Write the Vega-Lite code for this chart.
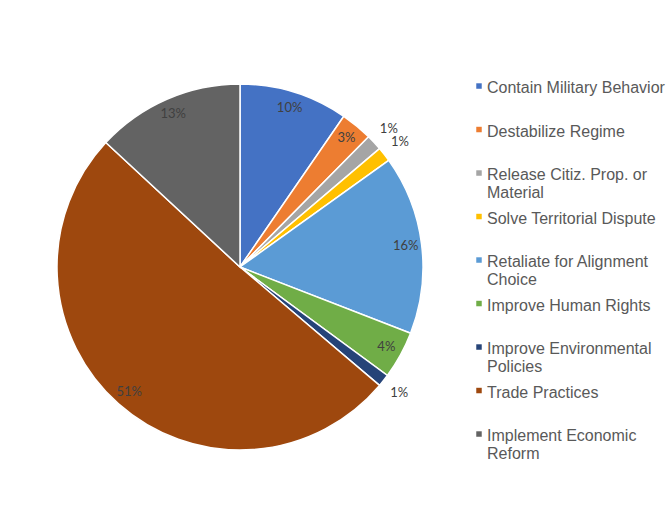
{
  "$schema": "https://vega.github.io/schema/vega-lite/v6.json",
  "width": 366,
  "height": 366,
  "autosize": {"type": "none"},
  "padding": {"left": 57, "top": 84, "right": 245, "bottom": 79},
  "background": "white",
  "config": {"view": {"stroke": null}},
  "data": {
    "values": [
      {"i": 1, "category": "Contain Military Behavior", "value": 9.6, "label": "10%"},
      {"i": 2, "category": "Destabilize Regime", "value": 2.8, "label": "3%"},
      {"i": 3, "category": "Release Citiz. Prop. or Material", "value": 1.4, "label": "1%"},
      {"i": 4, "category": "Solve Territorial Dispute", "value": 1.3, "label": "1%"},
      {"i": 5, "category": "Retaliate for Alignment Choice", "value": 15.8, "label": "16%"},
      {"i": 6, "category": "Improve Human Rights", "value": 4.2, "label": "4%"},
      {"i": 7, "category": "Improve Environmental Policies", "value": 1.1, "label": "1%"},
      {"i": 8, "category": "Trade Practices", "value": 50.7, "label": "51%"},
      {"i": 9, "category": "Implement Economic Reform", "value": 13.1, "label": "13%"}
    ]
  },
  "encoding": {
    "theta": {"field": "value", "type": "quantitative", "stack": true},
    "order": {"field": "i", "type": "quantitative"},
    "color": {
      "field": "category",
      "type": "nominal",
      "sort": null,
      "scale": {
        "domain": ["Contain Military Behavior", "Destabilize Regime", "Release Citiz. Prop. or Material", "Solve Territorial Dispute", "Retaliate for Alignment Choice", "Improve Human Rights", "Improve Environmental Policies", "Trade Practices", "Implement Economic Reform"],
        "range": ["#4472C4", "#ED7D31", "#A5A5A5", "#FFC000", "#5B9BD5", "#70AD47", "#264478", "#9E480E", "#636363"]
      },
      "legend": {
        "title": null,
        "orient": "none",
        "legendX": 414,
        "legendY": -12,
        "symbolType": "M-1,1.2H1V3.2H-1Z",
        "symbolSize": 30,
        "symbolStrokeWidth": 0,
        "labelFont": "Liberation Sans",
        "labelFontSize": 16,
        "labelColor": "#595959",
        "labelOffset": 0,
        "labelLimit": 300,
        "rowPadding": 1.5,
        "labelBaseline": "top",
        "labelExpr": "datum.label == 'Release Citiz. Prop. or Material' ? ['Release Citiz. Prop. or', 'Material'] : datum.label == 'Retaliate for Alignment Choice' ? ['Retaliate for Alignment', 'Choice'] : datum.label == 'Improve Environmental Policies' ? ['Improve Environmental', 'Policies'] : datum.label == 'Implement Economic Reform' ? ['Implement Economic', 'Reform'] : [datum.label, ' ']",
        "encode": {"labels": {"update": {"lineHeight": {"value": 19}}}}
      }
    }
  },
  "layer": [
    {
      "mark": {"type": "arc", "outerRadius": 183, "stroke": "white", "strokeWidth": 1.5}
    },
    {
      "mark": {"type": "text", "font": "Lato", "fontSize": 13, "radius": 167},
      "encoding": {
        "text": {"field": "label"},
        "color": {"value": "#404040"},
        "opacity": {"condition": {"test": "datum.value < 2", "value": 0}, "value": 1}
      }
    },
    {
      "mark": {"type": "text", "font": "Lato", "fontSize": 13, "radius": 203},
      "encoding": {
        "text": {"field": "label"},
        "color": {"value": "#404040"},
        "opacity": {"condition": {"test": "datum.value < 2", "value": 1}, "value": 0}
      }
    }
  ]
}
